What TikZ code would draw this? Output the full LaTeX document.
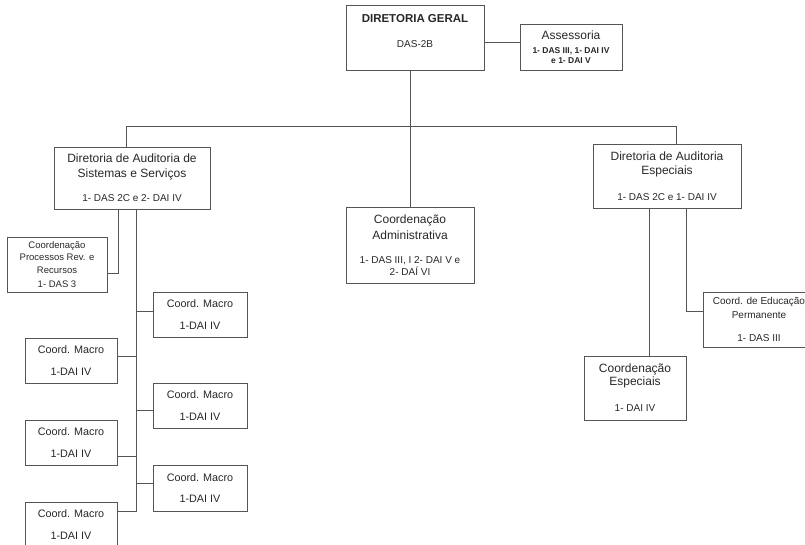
\documentclass[tikz,border=0pt]{standalone}
\usepackage{fontspec}
\setmainfont{Liberation Sans}
\usepackage{xcolor}
\definecolor{boxline}{RGB}{85,85,85}
\definecolor{boxtext}{RGB}{40,40,40}
\tikzset{
  orgbox/.style={draw=boxline, line width=0.9pt, fill=white, text=boxtext,
    align=center, inner sep=0pt, font=\fontsize{10}{12}\selectfont},
  macrobox/.style={orgbox, minimum height=45, font=\fontsize{10.8}{13}\selectfont},
  link/.style={draw=boxline, line width=0.9pt},
}
\newcommand{\cargo}{\fontsize{10}{12}\selectfont}
\begin{document}
\begin{tikzpicture}[x=1pt, y=-1pt]
        \useasboundingbox (0,0) rectangle (805,545);
        % direcao
        \node[orgbox, minimum width=138, minimum height=65] (dg) at (415,37.5)
          {{\bfseries\fontsize{11.5}{13}\selectfont DIRETORIA GERAL}\\[13pt]DAS-2B\\[2pt]};
        \node[orgbox, minimum width=102, minimum height=46, font=\fontsize{8.5}{10.5}\selectfont\bfseries] (ass) at (571,47)
          {{\mdseries\fontsize{12}{14}\selectfont Assessoria}\\[3.5pt]1- DAS III, 1- DAI IV\\e 1- DAI V};
        % diretorias
        \node[orgbox, minimum width=156, minimum height=62, font=\fontsize{12}{15}\selectfont] (dadss) at (132,178)
          {Diretoria de Auditoria de\\Sistemas e Servi\c{c}os\\[9pt]{\cargo 1- DAS 2C e 2- DAI IV}};
        \node[orgbox, minimum width=128, minimum height=76, font=\fontsize{12}{16}\selectfont] (cadm) at (410,245)
          {Coordena\c{c}\~{a}o\\Administrativa\\[8pt]{\cargo 1- DAS III, I 2- DAI V e}\\[-4pt]{\cargo 2- DA\'{I} VI}};
        \node[orgbox, minimum width=148, minimum height=64, font=\fontsize{12}{14.5}\selectfont] (dae) at (667,176)
          {Diretoria de Auditoria\\Especiais\\[11pt]{\cargo 1- DAS 2C e 1- DAI IV}};
        % coordenacoes
        \node[orgbox, minimum width=100, minimum height=55, font=\fontsize{9.5}{12.5}\selectfont] (cprr) at (57,264.5)
          {Coordena\c{c}\~{a}o\\Processos Rev. e\\Recursos\\[1.5pt]1- DAS 3};
        \node[macrobox, minimum width=94] (macroa) at (200,314.5) {Coord. Macro\\[8.5pt]1-DAI IV};
        \node[macrobox, minimum width=92] (macrob) at (71,360.5) {Coord. Macro\\[8.5pt]1-DAI IV};
        \node[macrobox, minimum width=94] (macroc) at (200,405.5) {Coord. Macro\\[8.5pt]1-DAI IV};
        \node[macrobox, minimum width=92] (macrod) at (71,442.5) {Coord. Macro\\[8.5pt]1-DAI IV};
        \node[macrobox, minimum width=94, minimum height=46] (macroe) at (200,488) {Coord. Macro\\[8.5pt]1-DAI IV};
        \node[macrobox, minimum width=92] (macrof) at (71,524.5) {Coord. Macro\\[8.5pt]1-DAI IV};
        \node[orgbox, minimum width=102, minimum height=64, font=\fontsize{12}{13}\selectfont] (cesp) at (635,388)
          {Coordena\c{c}\~{a}o\\Especiais\\[13pt]{\cargo 1- DAI IV}};
        \node[orgbox, minimum width=112, minimum height=55, font=\fontsize{10}{14}\selectfont] (cedu) at (759,319.5)
          {Coord. de Educa\c{c}\~{a}o\\Permanente\\[9pt]1- DAS III};
        % ligacoes
        \coordinate (bar) at (410.5,126.5);
        \coordinate (trunk) at (136.5,511);
        \draw[link] (dg.east |- 0,42.5) -- (ass.west |- 0,42.5);
        \draw[link] (dg.south -| bar) -- (bar);
        \draw[link] (dadss.north -| 126.5,0) |- (bar) -| (dae.north -| 676.5,0);
        \draw[link] (bar) -- (cadm.north -| bar);
        \draw[link] (dadss.south -| 118.5,0) |- (cprr.east |- 0,273);
        \draw[link] (dadss.south -| trunk) -- (trunk);
        \draw[link] (trunk |- 0,311.5) -- (macroa.west |- 0,311.5);
        \draw[link] (trunk |- 0,356.5) -- (macrob.east |- 0,356.5);
        \draw[link] (trunk |- 0,410.5) -- (macroc.west |- 0,410.5);
        \draw[link] (trunk |- 0,456.5) -- (macrod.east |- 0,456.5);
        \draw[link] (trunk |- 0,483.5) -- (macroe.west |- 0,483.5);
        \draw[link] (trunk) -- (macrof.east |- trunk);
        \draw[link] (dae.south -| 649.5,0) -- (cesp.north -| 649.5,0);
        \draw[link] (dae.south -| 686.5,0) |- (cedu.west |- 0,311.5);
\end{tikzpicture}
\end{document}
